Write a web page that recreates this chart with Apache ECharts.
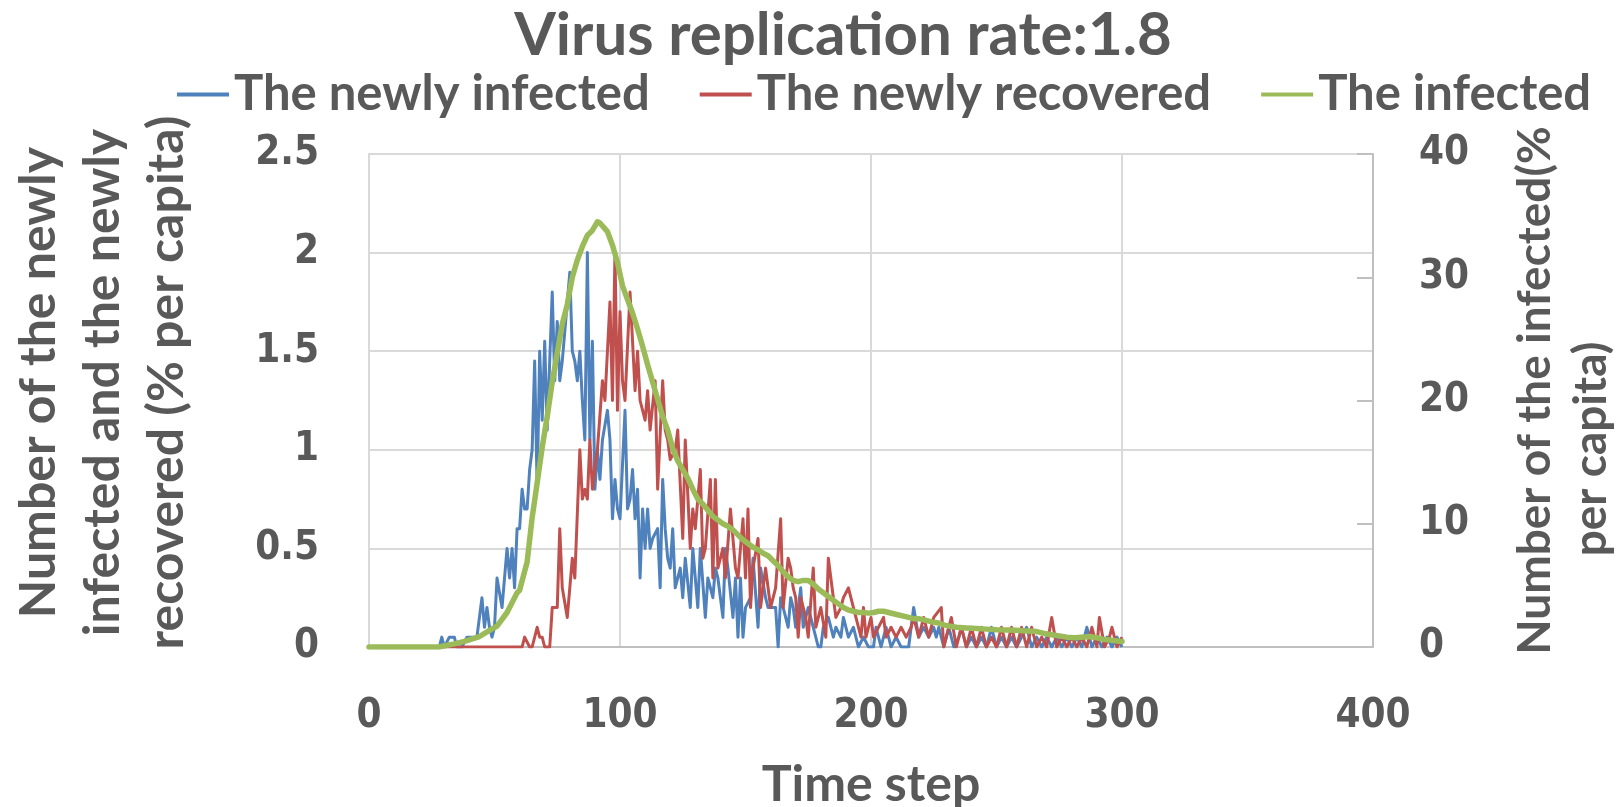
<!DOCTYPE html>
<html>
<head>
<meta charset="utf-8">
<title>Virus replication rate:1.8</title>
<script src="https://cdn.jsdelivr.net/npm/echarts@6/dist/echarts.min.js"></script>
<style>
  html, body { margin: 0; padding: 0; background: #fff; }
  #chart { width: 1616px; height: 807px; }
</style>
</head>
<body>
<div id="chart"></div>
<script>
// time steps / values, [step, value]
const newlyInfected = [
  [0,0],[28,0],[29,0.05],[30,0],[32,0.05],[34,0.05],[35,0],[37,0],[39,0.05],[41,0.05],[42,0.05],[43,0.05],
  [45,0.25],[46,0.1],[47,0.2],[48,0.1],[49,0.05],[50,0.1],[51,0.35],[53,0.2],[54,0.35],[55,0.5],[56,0.35],
  [57,0.5],[58,0.3],[59,0.6],[60,0.6],[61,0.8],[62,0.7],[63,0.7],[64,0.9],[65,1.0],[66,1.45],[67,0.8],
  [68,1.5],[69,1.15],[70,1.55],[71,1.1],[73,1.8],[74,1.35],[75,1.65],[76,1.35],[77,1.45],[80,1.9],[81,1.5],
  [82,1.45],[83,1.35],[84,1.5],[85,1.25],[86,1.05],[87,2.0],[88,1.05],[89,1.55],[90,0.8],[91,1.0],[92,0.85],
  [93,1.05],[95,1.2],[96,1.05],[97,0.65],[98,0.85],[99,0.7],[100,0.65],[102,1.2],[103,0.7],[104,0.75],
  [105,0.9],[106,0.65],[107,0.8],[108,0.35],[109,0.7],[110,0.5],[111,0.7],[112,0.5],[113,0.55],[115,0.6],
  [116,0.3],[117,0.85],[118,0.6],[119,0.45],[120,0.4],[121,0.6],[122,0.3],[124,0.4],[125,0.25],[126,0.45],
  [128,0.2],[129,0.5],[131,0.2],[132,0.5],[134,0.15],[135,0.35],[137,0.25],[138,0.4],[139,0.35],[141,0.15],
  [142,0.5],[143,0.4],[145,0.15],[146,0.35],[147,0.05],[148,0.35],[149,0.05],[150,0.2],[152,0.25],[153,0.45],
  [155,0.1],[156,0.4],[158,0.25],[159,0.2],[161,0.2],[162,0.2],[163,0],[164,0.25],[166,0.15],[167,0.1],
  [168,0.25],[169,0.2],[170,0.1],[172,0.3],[173,0.1],[175,0.2],[177,0.1],[179,0],[180,0],[181,0.1],
  [183,0.15],[185,0.05],[186,0.1],[188,0.05],[189,0.15],[191,0.05],[193,0.1],[195,0],[197,0.05],[199,0],
  [201,0],[202,0.1],[204,0],[206,0.1],[208,0],[210,0.05],[212,0],[215,0],[217,0.2],[219,0.05],[221,0.1],
  [223,0.05],[225,0.1],[226,0.05],[227,0.1],[229,0],[231,0.1],[233,0],[235,0.05],[236,0.1],[238,0],
  [240,0.05],[242,0],[244,0.05],[246,0],[248,0.1],[250,0],[252,0.05],[254,0],[256,0.05],[258,0],[260,0.05],
  [262,0.1],[264,0],[266,0.05],[268,0],[270,0.05],[272,0],[274,0.05],[276,0],[278,0.05],[280,0],[282,0.05],
  [284,0],[286,0.1],[288,0],[290,0.05],[292,0],[294,0.05],[296,0],[298,0.05],[300,0]
]

const newlyRecovered = [
  [0,0],[61,0],[62,0.05],[64,0],[65,0],[67,0.1],[68,0.05],[69,0.05],[70,0],[72,0],[73,0.2],[75,0.2],
  [76,0.6],[77,0.3],[79,0.15],[81,0.45],[82,0.35],[84,1.0],[85,0.75],[86,0.8],[87,0.75],[88,1.05],[89,0.8],
  [91,1.0],[93,1.35],[94,1.25],[96,1.75],[97,1.25],[98,2.0],[99,1.2],[100,1.7],[101,1.35],[102,1.25],
  [104,1.8],[106,1.3],[107,1.5],[108,1.25],[110,1.15],[111,1.3],[112,1.1],[114,1.35],[115,0.8],[117,1.35],
  [118,1.1],[119,1.05],[120,0.95],[122,1.0],[123,1.1],[125,0.55],[126,1.05],[128,0.5],[129,0.7],[130,0.6],
  [132,0.9],[133,0.45],[134,0.5],[136,0.85],[137,0.35],[138,0.85],[139,0.4],[141,0.5],[142,0.35],[144,0.7],
  [146,0.4],[147,0.35],[149,0.65],[150,0.35],[151,0.7],[152,0.2],[153,0.4],[155,0.55],[156,0.2],[158,0.4],
  [160,0.2],[162,0.3],[164,0.65],[165,0.2],[167,0.45],[168,0.4],[169,0.3],[170,0.25],[171,0.05],[172,0.25],
  [174,0.15],[175,0.05],[177,0.4],[178,0.1],[180,0.2],[182,0.05],[183,0.45],[185,0.25],[186,0.15],[188,0.2],
  [189,0.25],[191,0.3],[193,0.2],[194,0.15],[196,0.05],[197,0.2],[198,0.05],[200,0.15],[201,0.05],[203,0.1],
  [205,0.15],[206,0.05],[208,0.1],[210,0.05],[212,0.1],[214,0.05],[216,0.1],[217,0.15],[219,0.05],[221,0.15],
  [223,0.05],[225,0.15],[228,0.2],[229,0],[232,0.15],[234,0],[236,0.1],[238,0],[240,0.1],[242,0],[244,0.1],
  [246,0],[248,0.05],[250,0],[252,0.1],[254,0],[256,0.1],[258,0],[260,0.1],[262,0],[264,0.1],[266,0],
  [268,0.05],[270,0],[272,0.15],[274,0],[276,0.05],[278,0],[280,0.05],[282,0],[284,0.05],[286,0],[288,0.1],
  [290,0],[291,0.15],[293,0],[295,0.05],[296,0.1],[298,0],[300,0.05]
]

// right axis, % per capita
const infected = [
  [0,0],[28,0],[30,0.1],[34,0.25],[38,0.45],[44,0.85],[48,1.35],[51,1.7],[55,2.8],[59,4.4],[60,4.6],
  [63,6.9],[65,10.5],[66,11.9],[69,16.2],[71,18.7],[73,21.5],[77,26.2],[79,27.8],[81,30.0],[83,31.4],
  [85,32.5],[87,33.4],[89,33.8],[91,34.5],[92,34.4],[95,33.7],[97,32.6],[99,31.2],[101,29.3],[103,28.2],
  [105,27.1],[107,25.8],[109,24.4],[111,22.9],[113,21.5],[115,20.1],[117,18.7],[119,17.6],[121,16.1],
  [123,15.1],[125,14.4],[127,13.7],[129,12.8],[131,12.0],[133,11.6],[135,11.1],[137,10.6],[139,10.3],
  [141,10.0],[143,9.8],[145,9.5],[147,9.1],[149,8.7],[151,8.4],[153,8.1],[155,7.9],[157,7.6],[159,7.4],
  [161,7.0],[163,6.6],[165,6.1],[167,5.7],[169,5.4],[171,5.3],[173,5.4],[175,5.4],[177,5.1],[179,4.7],
  [181,4.4],[183,4.1],[185,3.8],[187,3.5],[189,3.2],[191,3.0],[193,2.9],[195,2.8],[197,2.8],[199,2.75],
  [201,2.8],[203,2.9],[205,2.9],[207,2.8],[209,2.7],[211,2.6],[213,2.5],[215,2.4],[217,2.3],[219,2.3],
  [221,2.2],[223,2.1],[225,2.0],[227,1.95],[229,1.8],[231,1.7],[234,1.6],[238,1.55],[242,1.5],[246,1.45],
  [250,1.4],[254,1.38],[258,1.35],[262,1.3],[266,1.25],[269,1.1],[272,1.0],[275,0.9],[278,0.8],[281,0.75],
  [284,0.8],[287,0.85],[290,0.75],[293,0.6],[296,0.55],[299,0.46],[300,0.45]
]

const seriesNames = ['The newly infected', 'The newly recovered', 'The infected']
const colors = ['#4f81bd', '#c0504d', '#9bbb59']

const textGrey = '#595959'
const titleFont = 'Lato'
const tickFont = 'DejaVu Sans Condensed'

const nameFont = { fontFamily: titleFont, fontWeight: 'bold', color: textGrey }

const chart = echarts.init(document.getElementById('chart'))

const option = {
  backgroundColor: '#ffffff',
  animation: false,
  title: {
    text: 'Virus replication rate:1.8',
    left: 838,
    top: 1,
    textAlign: 'center',
    textStyle: { fontFamily: titleFont, fontWeight: 'bold', fontSize: 60, color: textGrey }
  },
  legend: {
    data: seriesNames.map(n => ({ name: n, icon: 'rect' })),
    left: 172,
    top: 65,
    width: 1440,
    itemWidth: 52,
    itemHeight: 4,
    itemGap: 50,
    textStyle: { fontFamily: titleFont, fontWeight: 'bold', fontSize: 49, color: textGrey }
  },
  grid: { left: 369, top: 154, width: 1004, height: 493, outerBoundsMode: 'none', containLabel: false },
  xAxis: {
    type: 'value',
    min: 0,
    max: 400,
    interval: 100,
    name: 'Time step',
    nameLocation: 'middle',
    nameGap: 113,
    nameTextStyle: { ...nameFont, fontSize: 50 },
    axisLine: { lineStyle: { color: '#bfbfbf', width: 2 } },
    axisTick: { show: false },
    axisLabel: { margin: 50, fontFamily: tickFont, fontWeight: 'bold', fontSize: 40, color: textGrey },
    splitLine: { show: true, lineStyle: { color: '#d9d9d9', width: 2 } }
  },
  yAxis: [
    {
      type: 'value',
      position: 'left',
      min: 0,
      max: 2.5,
      interval: 0.5,
      name: '{n|Number of the newly}\n{n|infected and the newly}\n{n|recovered (% per capita)}',
      nameLocation: 'middle',
      nameGap: 170,
      nameTextStyle: {
        rich: {
          n: { ...nameFont, fontSize: 50, lineHeight: 64, padding: [0, 0, 0, 36] }
        }
      },
      axisLine: { show: true, lineStyle: { color: '#d9d9d9', width: 2 } },
      axisTick: { show: false },
      axisLabel: { margin: 50, fontFamily: tickFont, fontWeight: 'bold', fontSize: 40, color: textGrey },
      splitLine: { show: true, lineStyle: { color: '#d9d9d9', width: 2 } }
    },
    {
      type: 'value',
      position: 'right',
      min: 0,
      max: 40,
      interval: 10,
      name: '{a|Number of the infected(%}\n{b|per capita)}',
      nameLocation: 'middle',
      nameGap: 134,
      nameTextStyle: {
        rich: {
          a: { ...nameFont, fontSize: 46, lineHeight: 56, padding: [0, 0, 0, 20] },
          b: { ...nameFont, fontSize: 46, lineHeight: 56, padding: [0, 97, 0, 0] }
        }
      },
      axisLine: { show: true, lineStyle: { color: '#bfbfbf', width: 2 } },
      axisTick: { show: true, inside: true, length: 16, lineStyle: { color: '#bfbfbf', width: 2 } },
      axisLabel: { margin: 46, fontFamily: tickFont, fontWeight: 'bold', fontSize: 40, color: textGrey },
      splitLine: { show: false }
    }
  ],
  series: [
    {
      name: seriesNames[0],
      type: 'line',
      yAxisIndex: 0,
      data: newlyInfected,
      symbol: 'none',
      lineStyle: { color: colors[0], width: 3, join: 'round' },
      itemStyle: { color: colors[0] },
      z: 2
    },
    {
      name: seriesNames[1],
      type: 'line',
      yAxisIndex: 0,
      data: newlyRecovered,
      symbol: 'none',
      lineStyle: { color: colors[1], width: 3, join: 'round' },
      itemStyle: { color: colors[1] },
      z: 3
    },
    {
      name: seriesNames[2],
      type: 'line',
      yAxisIndex: 1,
      data: infected,
      symbol: 'none',
      lineStyle: { color: colors[2], width: 5.5, join: 'round', cap: 'round' },
      itemStyle: { color: colors[2] },
      z: 4
    }
  ]
}

chart.setOption(option)
</script>
</body>
</html>
